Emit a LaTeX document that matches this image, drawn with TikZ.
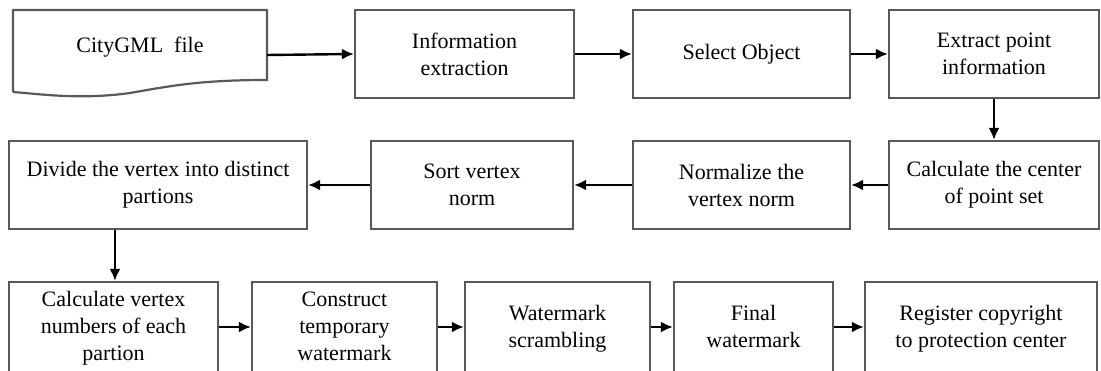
\documentclass[tikz,border=0pt]{standalone}
\usepackage{fontspec}
\setmainfont{Liberation Serif}
\usetikzlibrary{arrows.meta}
\tikzset{step box/.style={draw=black!65, line width=2.2pt, align=center, inner sep=0pt, minimum height=88pt, font=\fontsize{22}{27}\selectfont},
	flow/.style={draw=black, line width=2.4pt, -{Latex[length=12pt,width=11pt]}}}

\begin{document}
\begin{tikzpicture}[x=1pt, y=-1pt, line join=miter]
		\useasboundingbox (0,0) rectangle (1101,371);
		\clip (0,0) rectangle (1101,371);
		% first row
		\draw[draw=black!65, line width=2.2pt] (13,92) -- (13,10) -- (267,10) -- (267,80)
			.. controls (200,80) and (170,86) .. (130,93) .. controls (80,100) and (40,94) .. (13,92);
		\node[font=\fontsize{22}{27}\selectfont] (file) at (140,47) {CityGML\ \ file};
		\coordinate (fileout) at (267,55);
		\node[step box, minimum width=219pt] (info) at (464.5,54) {Information\\extraction};
		\node[step box, minimum width=217pt] (select) at (741.5,54) {Select Object};
		\node[step box, minimum width=210pt] (extract) at (994,54) {Extract point\\information};
		% second row
		\node[step box, minimum width=210pt] (center) at (994,185) {Calculate the center\\of point set};
		\node[step box, minimum width=217pt] (normalize) at (741.5,185) {Normalize the\\vertex norm};
		\node[step box, minimum width=202pt] (sort) at (472,185) {Sort vertex\\norm};
		\node[step box, minimum width=298pt] (divide) at (158,185) {Divide the vertex into distinct\\partions};
		% third row, cut at the lower edge
		\node[step box, minimum width=209pt, minimum height=120pt, text depth=32pt] (count) at (113.5,342) {Calculate vertex\\numbers of each\\partion};
		\node[step box, minimum width=185pt, minimum height=120pt, text depth=32pt] (temp) at (344.5,342) {Construct\\temporary\\watermark};
		\node[step box, minimum width=185pt, minimum height=120pt, text depth=32pt] (scramble) at (557.5,342) {Watermark\\scrambling};
		\node[step box, minimum width=159pt, minimum height=120pt, text depth=32pt] (final) at (753.5,342) {Final\\watermark};
		\node[step box, minimum width=232pt, minimum height=120pt, text depth=32pt] (register) at (981,342) {Register copyright\\to protection center};
		% connectors
		\draw[flow] (fileout) -- (info.west);
		\draw[flow] (info) -- (select);
		\draw[flow] (select) -- (extract);
		\draw[flow] (extract) -- (center);
		\draw[flow] (center) -- (normalize);
		\draw[flow] (normalize) -- (sort);
		\draw[flow] (sort) -- (divide);
		\draw[flow] (divide.south -| 115,0) -- (count.north -| 115,0);
		\foreach \a/\b in {count/temp, temp/scramble, scramble/final, final/register} {
			\draw[flow] (\a.east |- 0,327) -- (\b.west |- 0,327);
		}
	\end{tikzpicture}
\end{document}
